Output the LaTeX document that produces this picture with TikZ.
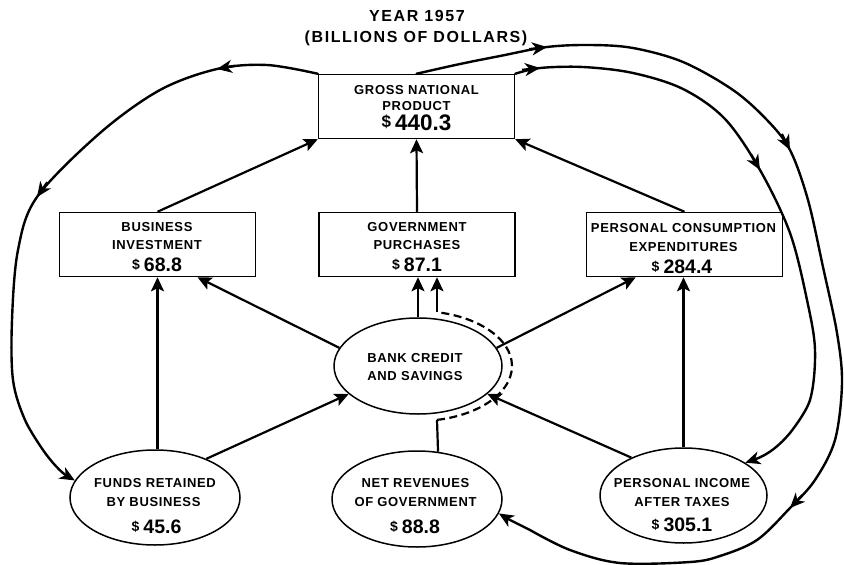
\documentclass[tikz,border=0pt]{standalone}
\usepackage{fontspec}
\setmainfont{Liberation Sans}
\newfontfamily\lblf{Liberation Sans}[LetterSpace=5]
\newfontfamily\ttlf{Liberation Sans}[LetterSpace=10]
\usetikzlibrary{shapes.geometric,arrows.meta,calc}
\newcommand\dsign[2]{\raisebox{#1}{\fontsize{#2}{#2}\selectfont\$}\hspace{4pt}}
\newcommand\mtip[2]{\draw[midtip] (#1) ++(#2:18pt) -- (#1);}
\begin{document}
\begin{tikzpicture}[x=1pt,y=-1pt,
  box/.style={draw, line width=1.5pt, minimum width=196pt, minimum height=64pt, inner sep=0pt},
  oval/.style={ellipse, draw, line width=1.5pt, inner sep=0pt},
  lbl/.style={font=\lblf\bfseries\fontsize{13}{15}\selectfont, inner sep=0pt},
  ttl/.style={font=\ttlf\bfseries\fontsize{16}{18}\selectfont, inner sep=0pt},
  val/.style={font=\bfseries\fontsize{19.5}{21}\selectfont, inner sep=0pt},
  bigval/.style={font=\bfseries\fontsize{22.5}{24}\selectfont, inner sep=0pt},
  conn/.style={line width=2.2pt, -{Stealth[length=14pt,width=13pt,inset=3pt]}},
  bigcurve/.style={line width=2.4pt, line cap=round},
  curvetip/.style={line width=2.4pt, -{Stealth[length=15pt,width=13pt,inset=4.5pt]}},
  midtip/.style={line width=2.4pt, -{Stealth[length=15pt,width=13pt,inset=4.5pt]}},
  solidln/.style={line width=2.2pt},
  dashln/.style={line width=2.2pt, dash pattern=on 8pt off 4.5pt},
]
\fill[white] (0,0) rectangle (844,565);
\useasboundingbox (0,0) rectangle (844,565);

% title
\node[ttl] (t1) at (417,16) {YEAR 1957};
\node[ttl] (t2) at (416,38) {(BILLIONS OF DOLLARS)};

% boxes
\node[box] (GNP) at (416.5,106.5) {};
\node[box] (BI)  at (157.5,244.5) {};
\node[box] (GP)  at (417,244.5) {};
\node[box] (PCE) at (684.5,244.5) {};

\node[lbl] (gnp1) at (416.5,90) {GROSS NATIONAL};
\node[lbl] (gnp2) at (416.5,106) {PRODUCT};
\node[bigval] (gnp3) at (416.5,123) {\dsign{3pt}{17}440.3};

\node[lbl] (bi1) at (157,227) {BUSINESS};
\node[lbl] (bi2) at (157,245) {INVESTMENT};
\node[val] (bi3) at (157,265) {\dsign{2.5pt}{14}68.8};

\node[lbl] (gp1) at (417,227) {GOVERNMENT};
\node[lbl] (gp2) at (417,245) {PURCHASES};
\node[val] (gp3) at (417,265) {\dsign{2.5pt}{14}87.1};

\node[lbl] (pce1) at (683.5,228) {PERSONAL CONSUMPTION};
\node[lbl] (pce2) at (683.5,247) {EXPENDITURES};
\node[val] (pce3) at (682,267) {\dsign{2.5pt}{14}284.4};

% ellipses
\node[oval, minimum width=168pt, minimum height=96pt] (Bank) at (418,366) {};
\node[oval, minimum width=170pt, minimum height=95pt] (Funds) at (155,497.5) {};
\node[oval, minimum width=170pt, minimum height=96pt] (NetRev) at (417,499) {};
\node[oval, minimum width=167pt, minimum height=95pt] (PI) at (683.5,495.5) {};

\node[lbl] (bank1) at (415,358) {BANK CREDIT};
\node[lbl] (bank2) at (415,376) {AND SAVINGS};

\node[lbl] (fu1) at (155,483) {FUNDS RETAINED};
\node[lbl] (fu2) at (153.5,502) {BY BUSINESS};
\node[val] (fu3) at (156.5,527) {\dsign{2.5pt}{14}45.6};

\node[lbl] (nr1) at (415.5,483) {NET REVENUES};
\node[lbl] (nr2) at (415.5,502) {OF GOVERNMENT};
\node[val] (nr3) at (415,527) {\dsign{2.5pt}{14}88.8};

\node[lbl] (pi1) at (682,483) {PERSONAL INCOME};
\node[lbl] (pi2) at (682,502) {AFTER TAXES};
\node[val] (pi3) at (682,525) {\dsign{2.5pt}{14}305.1};

% straight connectors
\draw[conn] (BI.north) -- (GNP.south west);
\draw[conn] (GP.north) -- (GNP.south);
\draw[conn] (PCE.north) -- (GNP.south east);
\draw[conn] (BI.south |- Funds.north) -- (BI.south);
\draw[conn] (Funds.37) -- (Bank.202);
\draw[conn] (Bank.167) -- ($(BI.south)+(40,0)$);
\draw[conn] (Bank.north) -- (Bank.north |- GP.south);
\draw[conn] (Bank.13) -- ($(PCE.south west)+(50,0)$);
\draw[conn] (PI.north) -- (PI.north |- PCE.south);
\draw[conn] (PI.144) -- (Bank.-22.5);

% dashed route from net revenues to government purchases
\coordinate (dA) at ($(Bank.center)+(19,53.9)$);
\coordinate (dB) at ($(Bank.center)+(19,-53.9)$);
\draw[solidln] (NetRev.66.8) -- (dA);
\draw[dashln] (dA) arc[start angle=-78.34, end angle=78.34, x radius=94pt, y radius=55pt];
\draw[conn] (dB) -- ($(GP.south)+(20,0)$);

% left loop: GNP -> funds retained
\draw[bigcurve] plot[smooth, tension=0.55] coordinates {(GNP.north west) (267,65) (217,69) (160,90) (100,133) (37,197) (18,250) (12,320) (13,380) (25,420) (43,450)};
\draw[curvetip] (43,450) .. controls (52,463) and (62,473) .. (Funds.168);
\mtip{217,69}{10}
\mtip{37,197}{55}

% inner right loop: GNP -> personal income
\draw[bigcurve] plot[smooth, tension=0.55] coordinates {(GNP.north east) (540,68) (583,67) (633,73) (683,89) (725,119) (760,170) (790,233) (807,300) (815,350) (810,400) (790,433)};
\draw[curvetip] (790,433) .. controls (780,445) and (768,455) .. (PI.28);
\mtip{540,68}{186}
\mtip{760,170}{120}

% outer right loop: GNP -> net revenues of government
\draw[bigcurve] plot[smooth, tension=0.55] coordinates {(GNP.north) (460,64) (500,56) (547,47) (590,45) (633,48) (683,62) (733,90) (767,120) (790,150) (808,200) (823,267) (837,333) (842,383) (835,440) (815,480) (790,508) (757,540) (720,556) (690,562) (620,563) (570,550) (530,530)};
\draw[curvetip] (530,530) .. controls (518,524) and (508,519) .. (NetRev.-10);
\mtip{547,47}{187}
\mtip{790,150}{117}
\mtip{790,508}{46}
\end{tikzpicture}
\end{document}
